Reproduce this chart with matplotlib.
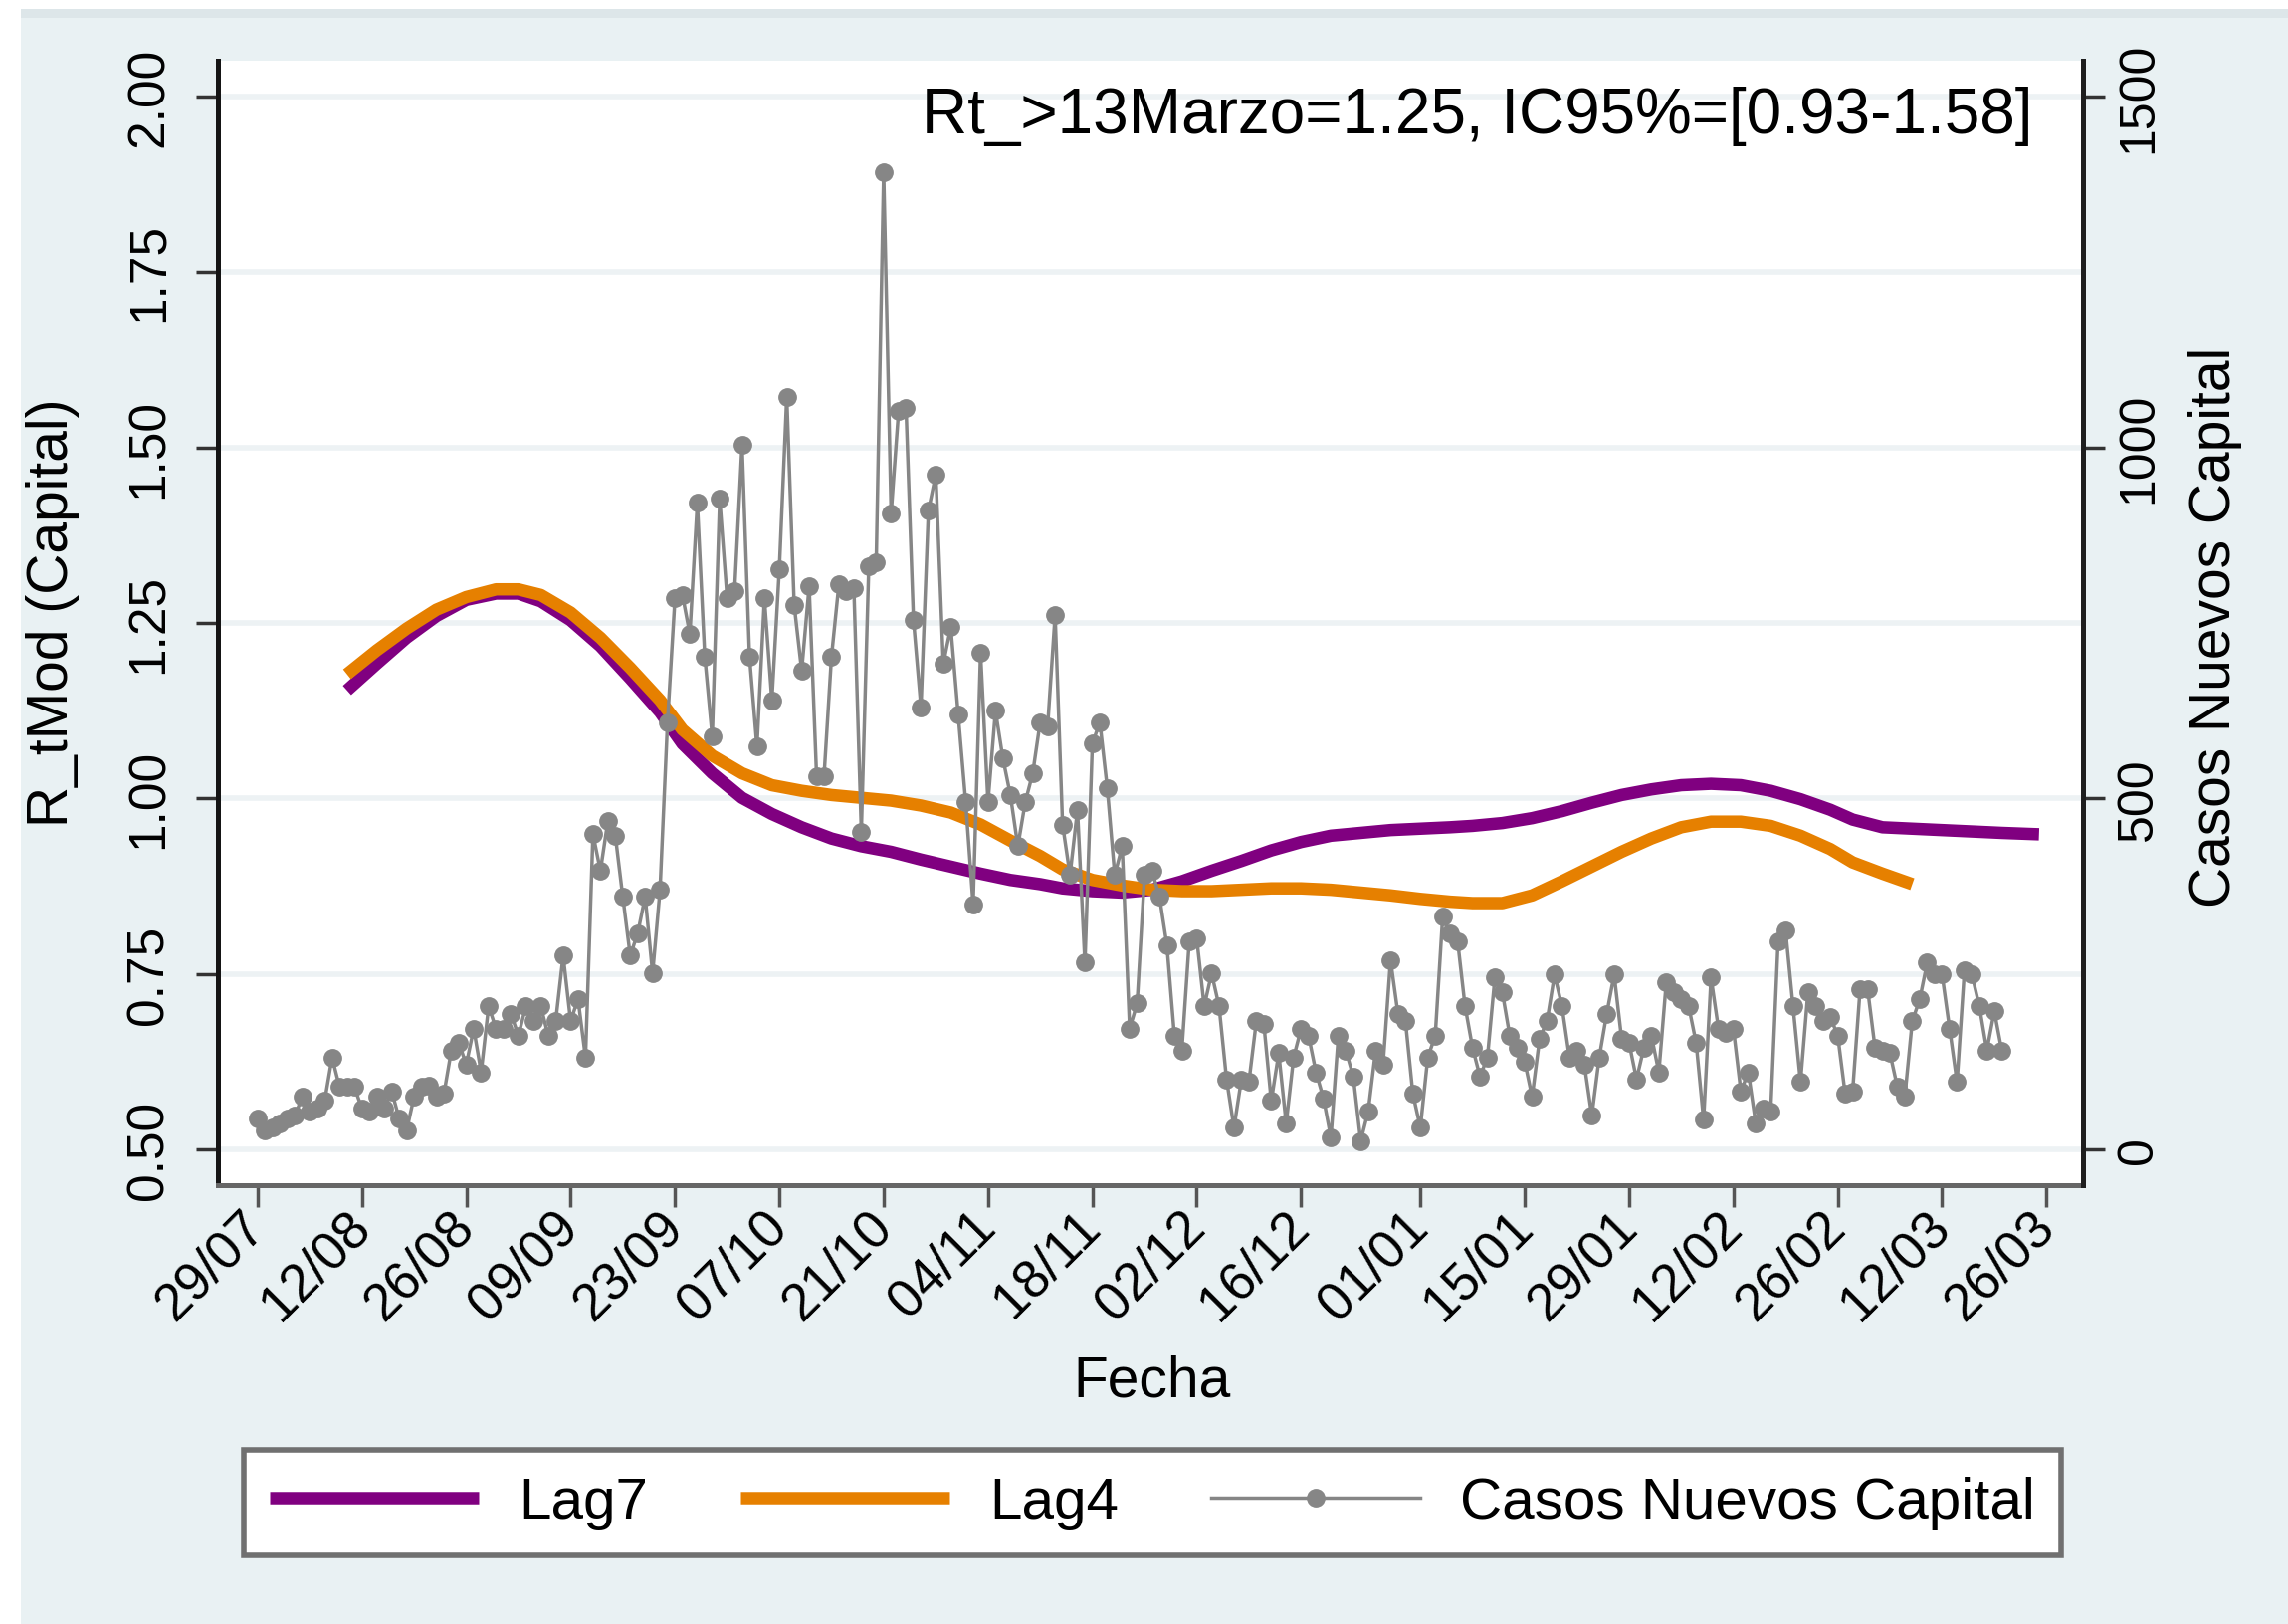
import numpy as np
import pandas as pd
import matplotlib
matplotlib.use('Agg')
import matplotlib.pyplot as plt
import matplotlib.dates as mdates
from matplotlib.patches import Rectangle

# --- Datos ---
CASOS_INICIO = '2020-07-29'
casos_nuevos = [
    44, 27, 31, 37, 44, 48, 75, 54, 58, 69, 131, 89,
    89, 89, 58, 54, 75, 58, 83, 44, 27, 75, 89, 91, 75, 79, 141, 152, 121,
    172, 110, 204, 172, 172, 193, 162, 204, 183, 204,
    162, 183, 276, 183, 214, 131, 449, 397, 468, 447,
    360, 276, 308, 360, 251, 370, 609, 785, 790, 734,
    921, 702, 588, 927, 785, 796, 1004, 702, 574, 785,
    640, 827, 1072, 775, 682, 802, 532, 532, 702, 806,
    796, 800, 453, 831, 837, 1392, 906, 1052, 1056,
    754, 630, 910, 962, 692, 744, 619, 495, 349, 707,
    495, 625, 557, 505, 432, 495, 536, 609, 603, 761,
    463, 391, 484, 266, 578, 609, 515, 391, 432, 172, 208,
    391, 397, 360, 291, 162, 141, 297, 301,
    204, 251, 204, 100, 31, 100, 96, 183, 179, 69,
    137, 37, 131, 172, 162, 110, 73, 17, 162,
    141, 104, 12, 54, 141, 121, 270, 193, 183, 79,
    31, 131, 162, 332, 308, 297, 204, 145, 104, 131,
    245, 224, 162, 145, 125, 75, 158, 183, 249, 204,
    131, 141, 121, 48, 131, 193, 249, 158, 152, 100,
    145, 162, 110, 239, 224, 214, 204, 152, 42,
    245, 172, 166, 172, 83, 110, 37, 58, 54, 297,
    312, 204, 96, 224, 204, 183, 189, 162, 79, 83,
    229, 229, 145, 141, 137, 89, 75, 183, 214, 266,
    249, 249, 172, 96, 256, 249, 204, 141, 197, 141,
]

curva_fechas = [
    '2020-08-10', '2020-08-14', '2020-08-18', '2020-08-22', '2020-08-26', '2020-08-30',
    '2020-09-02', '2020-09-05', '2020-09-09', '2020-09-13', '2020-09-17', '2020-09-21',
    '2020-09-24', '2020-09-28', '2020-10-02', '2020-10-06', '2020-10-10', '2020-10-14',
    '2020-10-18', '2020-10-22', '2020-10-26', '2020-10-30', '2020-11-03', '2020-11-07',
    '2020-11-11', '2020-11-14', '2020-11-18', '2020-11-22', '2020-11-26', '2020-11-30',
    '2020-12-04', '2020-12-08', '2020-12-12', '2020-12-16', '2020-12-20', '2020-12-24',
    '2020-12-28', '2021-01-01', '2021-01-05', '2021-01-08', '2021-01-12', '2021-01-16',
    '2021-01-20', '2021-01-24', '2021-01-28', '2021-02-01', '2021-02-05', '2021-02-09',
    '2021-02-13', '2021-02-17', '2021-02-21', '2021-02-25', '2021-02-28', '2021-03-04',
    '2021-03-08', '2021-03-12', '2021-03-16', '2021-03-20', '2021-03-25',
]
lag7 = [
    1.154, 1.192, 1.229, 1.260, 1.283, 1.292, 1.292, 1.281, 1.254, 1.217, 1.171, 1.123,
    1.078, 1.036, 1.001, 0.978, 0.959, 0.943, 0.932, 0.924, 0.913, 0.903, 0.893, 0.884,
    0.878, 0.872, 0.868, 0.866, 0.870, 0.882, 0.897, 0.911, 0.926, 0.938, 0.947, 0.951,
    0.955, 0.957, 0.959, 0.961, 0.965, 0.972, 0.982, 0.994, 1.005, 1.013, 1.019, 1.021,
    1.019, 1.011, 0.999, 0.984, 0.970, 0.959, 0.957, 0.955, 0.953, 0.951, 0.949,
]
lag4 = [
    1.177, 1.211, 1.242, 1.269, 1.287, 1.298, 1.298, 1.290, 1.265, 1.229, 1.186, 1.140,
    1.098, 1.061, 1.036, 1.019, 1.011, 1.005, 1.001, 0.997, 0.990, 0.980, 0.963, 0.940,
    0.918, 0.899, 0.884, 0.876, 0.870, 0.868, 0.868, 0.870, 0.872, 0.872, 0.870, 0.866,
    0.862, 0.857, 0.853, 0.851, 0.851, 0.862, 0.882, 0.903, 0.924, 0.943, 0.959, 0.967,
    0.967, 0.961, 0.947, 0.928, 0.909, 0.893, 0.878, np.nan, np.nan, np.nan, np.nan,
]

tick_fechas = [
    '2020-07-29', '2020-08-12', '2020-08-26', '2020-09-09', '2020-09-23', '2020-10-07',
    '2020-10-21', '2020-11-04', '2020-11-18', '2020-12-02', '2020-12-16', '2021-01-01',
    '2021-01-15', '2021-01-29', '2021-02-12', '2021-02-26', '2021-03-12', '2021-03-26',
]
rt_ticks = [0.50, 0.75, 1.00, 1.25, 1.50, 1.75, 2.00]
casos_ticks = [0, 500, 1000, 1500]
nota = 'Rt_>13Marzo=1.25, IC95%=[0.93-1.58]'

# --- Estilo ---
PURPLE = '#800080'
ORANGE = '#E68000'
GRAY = '#868686'
BG = '#E9F1F3'

plt.rcParams['font.family'] = ['Liberation Sans', 'DejaVu Sans']

fig = plt.figure(figsize=(22.99, 16.33), dpi=100, facecolor='white')
fig.patches.append(Rectangle((21 / 2299, 0), 1 - 21 / 2299, 1 - 10 / 1633,
                             transform=fig.transFigure, facecolor=BG,
                             edgecolor='none', zorder=-10))
fig.patches.append(Rectangle((21 / 2299, 1 - 19 / 1633), 1 - 21 / 2299, 9 / 1633,
                             transform=fig.transFigure, facecolor='#DDE6E9',
                             edgecolor='none', zorder=-9))

ax = fig.add_axes([0.0953, 0.270, 0.8151, 0.692])
ax.set_facecolor('white')

fechas_casos = pd.date_range(CASOS_INICIO, periods=len(casos_nuevos), freq='D')
fechas_curva = pd.to_datetime(curva_fechas)

ax.plot(fechas_curva, lag7, color=PURPLE, lw=9, solid_joinstyle='round',
        solid_capstyle='butt', label='Lag7', zorder=3)
ax.plot(fechas_curva, lag4, color=ORANGE, lw=9, solid_joinstyle='round',
        solid_capstyle='butt', label='Lag4', zorder=3)

ax2 = ax.twinx()
ax2.plot(fechas_casos, casos_nuevos, color=GRAY, lw=2.5, marker='o', ms=12.5,
         mfc=GRAY, mec=GRAY, label='Casos Nuevos Capital')

# ejes
t0 = mdates.date2num(pd.Timestamp(CASOS_INICIO))
ax.set_xlim(t0 - 5.3, t0 + 244.9)
ax.set_ylim(0.449, 2.051)
ax2.set_ylim(-51, 1551)

ax.set_yticks(rt_ticks)
ax.set_yticklabels([f'{v:.2f}' for v in rt_ticks], rotation=90, va='center')
ax2.set_yticks(casos_ticks)
ax2.set_yticklabels([str(v) for v in casos_ticks], rotation=90, va='center')

xt = pd.to_datetime(tick_fechas)
ax.set_xticks(xt)
ax.set_xticklabels([d.strftime('%d/%m') for d in xt], rotation=45,
                   ha='right', va='center', rotation_mode='anchor')

ax.yaxis.grid(True, color='#EDF2F4', lw=4)
ax.set_axisbelow(True)

for s in ['top', 'right']:
    ax.spines[s].set_visible(False)
for s in ['top', 'left', 'bottom']:
    ax2.spines[s].set_visible(False)
ax.spines['left'].set_color('#151515')
ax.spines['left'].set_linewidth(3.6)
ax.spines['bottom'].set_color('#666666')
ax.spines['bottom'].set_linewidth(3.6)
ax2.spines['right'].set_color('#1E1E1E')
ax2.spines['right'].set_linewidth(3.6)

ax.tick_params(axis='x', length=16, width=2.5, color='#555555', labelsize=38, pad=8)
ax.tick_params(axis='y', length=16, width=2.5, color='#333333', labelsize=37, pad=16)
ax2.tick_params(axis='y', length=16, width=2.5, color='#333333', labelsize=36, pad=8)

ax.set_xlabel('Fecha', fontsize=41)
ax.xaxis.set_label_coords(0.501, -0.150)
ax.set_ylabel('R_tMod (Capital)', fontsize=41)
ax.yaxis.set_label_coords(-0.074, 0.51)
ax2.set_ylabel('Casos Nuevos Capital', fontsize=41)
ax2.yaxis.set_label_coords(1.0566, 0.497)

ax.text(0.973, 0.951, nota, transform=ax.transAxes, ha='right', va='center',
        fontsize=46)

# leyenda
h1, l1 = ax.get_legend_handles_labels()
h2, l2 = ax2.get_legend_handles_labels()
leg = fig.legend(h1 + h2, l1 + l2, loc='center', bbox_to_anchor=(0.5037, 0.0747),
                 ncol=3, fontsize=42, frameon=True, fancybox=False,
                 edgecolor='#707070', facecolor='white', framealpha=1,
                 handlelength=3.6, handletextpad=0.68, columnspacing=1.6,
                 borderpad=0.45, numpoints=1)
leg.get_frame().set_linewidth(4)

fig.savefig('out.png', dpi=100, facecolor=fig.get_facecolor())
